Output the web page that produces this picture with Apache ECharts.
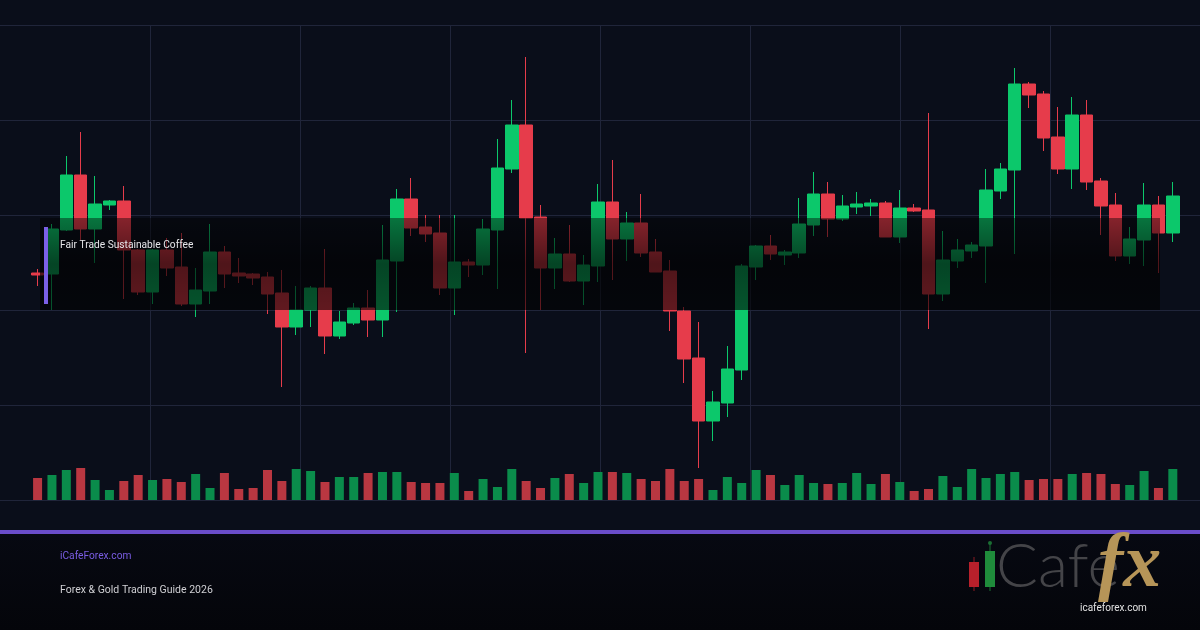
<!DOCTYPE html>
<html>
<head>
<meta charset="utf-8">
<script src="https://cdn.jsdelivr.net/npm/echarts@6/dist/echarts.min.js"></script>
<style>
html,body{margin:0;padding:0;background:#0a0e1a;}
#c{width:1200px;height:630px;}
</style>
</head>
<body>
<div id="c"></div>
<script>
// Session labels (trading days)
const categories = ['1','2','3','4','5','6','7','8','9','10','11','12','13','14','15','16','17','18','19','20',
  '21','22','23','24','25','26','27','28','29','30','31','32','33','34','35','36','37','38','39','40',
  '41','42','43','44','45','46','47','48','49','50','51','52','53','54','55','56','57','58','59','60',
  '61','62','63','64','65','66','67','68','69','70','71','72','73','74','75','76','77','78','79','80'];

// Price series (cents/lb)
const opens  = [357,356,400,455,401,425,429,380,338,380,363,326,339,378,357,356,353,337,303,320,
                342,294,307,322,310,369,431,403,397,342,368,365,400,461,505,413,362,376,349,364,
                428,391,407,378,359,319,272,209,227,260,363,384,375,377,405,436,411,423,424,427,
                393,422,420,336,369,379,384,439,460,546,536,493,461,515,449,425,374,390,425,397];
const closes = [355,401,455,401,426,429,380,338,380,362,326,340,378,356,354,352,336,303,320,342,
                294,308,322,310,370,431,402,396,342,368,365,401,462,505,412,362,376,349,365,428,
                391,407,377,358,319,271,209,228,261,364,384,376,378,406,436,411,424,426,427,393,
                422,419,336,370,380,385,440,461,546,535,492,461,515,448,424,374,391,425,397,434];
const lows   = [344,320,399,390,367,420,331,335,326,354,324,313,326,342,347,345,316,243,295,303,
                276,291,305,293,293,318,394,388,335,315,353,355,341,457,277,320,341,348,325,348,
                350,369,373,358,299,247,162,189,213,250,350,370,365,372,394,393,409,416,414,393,
                387,418,301,329,362,372,347,431,376,522,479,456,441,440,395,369,366,364,357,388];
const highs  = [361,406,474,498,454,430,444,381,381,392,397,362,406,384,372,357,358,360,344,344,
                381,319,327,340,405,441,452,415,415,415,371,411,491,530,573,425,392,405,375,446,
                470,418,436,391,370,323,308,239,284,366,385,395,380,432,458,448,435,438,431,429,
                440,426,517,399,391,388,461,467,562,548,539,523,533,530,452,437,403,447,434,448];
// Volume (thousand lots)
const volumes = [22,25,30,32,20,10,19,25,20,21,18,26,12,27,11,12,30,19,31,29,
                 18,23,23,27,28,28,18,17,17,27,9,21,13,31,19,12,22,26,17,28,
                 28,27,21,19,31,19,21,10,23,17,30,25,15,25,17,16,17,27,16,26,
                 18,9,11,24,13,31,22,26,28,20,21,21,26,27,26,16,15,29,12,31];

const seriesTitle = 'Fair Trade Sustainable Coffee';
const siteLabel = 'iCafeForex.com';
const guideLabel = 'Forex & Gold Trading Guide 2026';

const UP = '#0cc86b', DOWN = '#e63c4b';
const VUP = '#0a8c4b', VDOWN = '#b93741';

const candleData = opens.map((o, i) => [o, closes[i], lows[i], highs[i]]);
const volData = volumes.map((v, i) => ({
  value: v,
  itemStyle: { color: closes[i] >= opens[i] ? VUP : VDOWN }
}));

const chart = echarts.init(document.getElementById('c'), null, {renderer: 'canvas'});
const GRID_LINE = '#20253a';

chart.setOption({
  backgroundColor: '#0a0e1a',
  animation: false,
  grid: [
    {left: 30.4, width: 1149.6, top: 25, height: 475},
    {left: 30.4, width: 1149.6, top: 440, height: 60},
    {left: 0, width: 1200, top: 25, height: 475}
  ],
  xAxis: [
    {type: 'category', gridIndex: 0, data: categories, boundaryGap: true,
     axisLine: {show: false}, axisTick: {show: false}, axisLabel: {show: false}, splitLine: {show: false}},
    {type: 'category', gridIndex: 1, data: categories, boundaryGap: true,
     axisLine: {show: false}, axisTick: {show: false}, axisLabel: {show: false}, splitLine: {show: false}},
    {type: 'value', gridIndex: 2, min: 0, max: 8, interval: 1,
     axisLine: {show: false}, axisTick: {show: false}, axisLabel: {show: false},
     splitLine: {show: true, showMinLine: false, showMaxLine: false, lineStyle: {color: GRID_LINE, width: 1}}}
  ],
  yAxis: [
    {type: 'value', gridIndex: 0, min: 130, max: 605, scale: true,
     axisLine: {show: false}, axisTick: {show: false}, axisLabel: {show: false}, splitLine: {show: false}},
    {type: 'value', gridIndex: 1, min: 0, max: 60,
     axisLine: {show: false}, axisTick: {show: false}, axisLabel: {show: false}, splitLine: {show: false}},
    {type: 'value', gridIndex: 2, min: 0, max: 5, interval: 1,
     axisLine: {show: false}, axisTick: {show: false}, axisLabel: {show: false},
     splitLine: {show: true, lineStyle: {color: GRID_LINE, width: 1}}}
  ],
  series: [
    {type: 'scatter', xAxisIndex: 2, yAxisIndex: 2, data: [], silent: true},
    {type: 'bar', xAxisIndex: 1, yAxisIndex: 1, data: volData, barWidth: 9, silent: true, z: 3},
    {type: 'candlestick', xAxisIndex: 0, yAxisIndex: 0, data: candleData, barWidth: 13, z: 4,
     itemStyle: {color: UP, color0: DOWN, borderColor: UP, borderColor0: DOWN, borderWidth: 1}}
  ],
  graphic: [
    // footer
    {type: 'rect', z: 1, shape: {x: 0, y: 532, width: 1200, height: 98},
     style: {fill: new echarts.graphic.LinearGradient(0, 0, 0, 1, [
       {offset: 0, color: '#070912'}, {offset: 1, color: '#04050a'}])}},
    {type: 'rect', z: 50, shape: {x: 0, y: 530, width: 1200, height: 4}, style: {fill: '#6a4dca'}},
    // overlay band
    {type: 'rect', z: 100, shape: {x: 40, y: 218, width: 1120, height: 92},
     style: {fill: new echarts.graphic.LinearGradient(0, 0, 0, 1, [
       {offset: 0, color: 'rgba(0,0,0,0.42)'},
       {offset: 0.5, color: 'rgba(0,0,0,0.66)'},
       {offset: 1, color: 'rgba(0,0,0,0.58)'}])}},
    {type: 'rect', z: 101, shape: {x: 44, y: 227, width: 4, height: 77}, style: {fill: '#7b60e6'}},
    {type: 'text', z: 102, x: 60, y: 245,
     style: {text: seriesTitle, fill: '#e6e6ea', font: '10.2px Roboto', textVerticalAlign: 'middle'}},
    // footer texts
    {type: 'text', z: 60, x: 60, y: 556,
     style: {text: siteLabel, fill: '#7a5de4', font: '10.2px Roboto', textVerticalAlign: 'middle'}},
    {type: 'text', z: 60, x: 60, y: 590,
     style: {text: guideLabel, fill: '#d0d0d4', font: '10.5px Roboto', textVerticalAlign: 'middle'}},
    // logo
    {type: 'rect', z: 60, shape: {x: 973.5, y: 557, width: 1, height: 34}, style: {fill: '#8a1a22'}},
    {type: 'rect', z: 61, shape: {x: 969, y: 562, width: 10, height: 25}, style: {fill: '#b8202b'}},
    {type: 'rect', z: 60, shape: {x: 989.5, y: 543, width: 1, height: 48}, style: {fill: '#1b6e33'}},
    {type: 'circle', z: 60, shape: {cx: 990, cy: 543, r: 2}, style: {fill: '#1b6e33'}},
    {type: 'rect', z: 61, shape: {x: 985, y: 551, width: 10, height: 36}, style: {fill: '#1f8c3b'}},
    {type: 'text', z: 60, x: 996, y: 598,
     style: {text: 'Cafe', fill: '#444448', font: '300 62px Lato', textVerticalAlign: 'bottom'}},
    {type: 'text', z: 62, x: 1098, y: 604,
     style: {text: 'fx', fill: '#b69558', font: 'italic bold 76px "Liberation Serif"', textVerticalAlign: 'bottom'}},
    {type: 'text', z: 63, x: 1080, y: 608,
     style: {text: 'icafeforex.com', fill: '#e2e2e2', font: '10px Roboto', textVerticalAlign: 'middle'}}
  ]
});
</script>
</body>
</html>
